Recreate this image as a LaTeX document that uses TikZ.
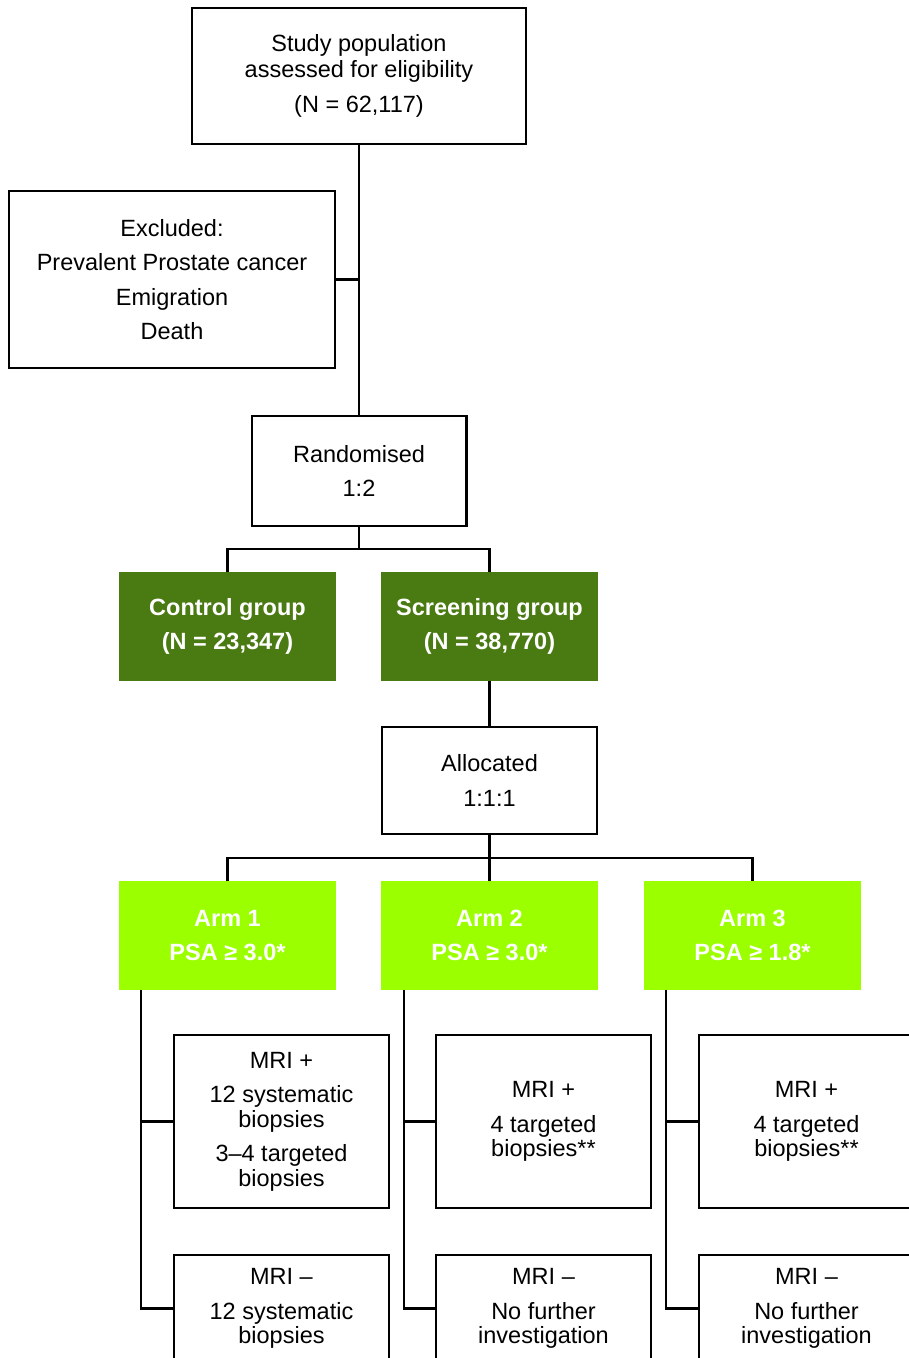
\documentclass[tikz,border=0pt]{standalone}
\usepackage{fontspec}
\setmainfont{Liberation Sans}
\usetikzlibrary{positioning}
\definecolor{groupgreen}{HTML}{4A7A12}
\definecolor{armlime}{HTML}{9CFF00}

\begin{document}
\begin{tikzpicture}[
  x=1pt, y=1pt,
  font=\fontsize{23.5}{34.5}\selectfont,
  line width=2.3pt,
  box/.style={draw, align=center, inner sep=0pt, minimum width=214.7pt, minimum height=106.7pt},
  group/.style={align=center, inner sep=0pt, outer sep=0pt, minimum width=217pt, minimum height=109pt,
    fill=groupgreen, text=white, font=\fontsize{23.5}{34.5}\selectfont\bfseries},
  arm/.style={group, fill=armlime},
  mripos/.style={box, minimum height=172.7pt}
]
\useasboundingbox (0,0) rectangle (909,-1358);
\clip (0,0) rectangle (909,-1358);

\node[box, minimum width=333.7pt, minimum height=135.7pt] (pop) at (359,-76)
  {Study population\\[-8.5pt]assessed for eligibility\\(N = 62,117)};
\node[box, minimum width=325.7pt, minimum height=176.7pt] (excl) at (172,-279.5)
  {Excluded:\\Prevalent Prostate cancer\\Emigration\\Death};
\node[box, minimum height=109.7pt, below=270pt of pop] (rand) {Randomised\\1:2};

\draw (pop.south) -- (rand.north);
\draw (excl.east) -- (excl.east -| pop.south);

\node[group] (ctrl) at (227.5,-626.5) {Control group\\(N = 23,347)};
\node[group, right=45pt of ctrl] (scr) {Screening group\\(N = 38,770)};

\draw (rand.south) -- ++(0,-22) coordinate (split1);
\draw (ctrl.north) |- (split1) -| (scr.north);

\node[box, below=45pt of scr] (alloc) {Allocated\\1:1:1};
\draw (scr.south) -- (alloc.north);

\node[arm, below=46pt of alloc] (arm2) {Arm 2\\PSA ≥ 3.0*};
\node[arm, left=45pt of arm2] (arm1) {Arm 1\\PSA ≥ 3.0*};
\node[arm, right=46pt of arm2] (arm3) {Arm 3\\PSA ≥ 1.8*};

\draw (alloc.south) -- (arm2.north);
\path (alloc.south) ++(0,-23) coordinate (split2);
\draw (arm1.north) |- (split2) -| (arm3.north);

% MRI outcomes per arm
\node[mripos, below=44pt of arm1, xshift=54pt] (mrip1)
  {MRI +\\12 systematic\\[-10pt]biopsies\\3–4 targeted\\[-10pt]biopsies};
\node[box, below=45pt of mrip1] (mrin1) {MRI –\\12 systematic\\[-10pt]biopsies};
\node[mripos, below=44pt of arm2, xshift=54pt] (mrip2) {MRI +\\4 targeted\\[-10pt]biopsies**};
\node[box, below=45pt of mrip2] (mrin2) {MRI –\\No further\\[-10pt]investigation};
\node[mripos, below=44pt of arm3, xshift=54pt] (mrip3) {MRI +\\4 targeted\\[-10pt]biopsies**};
\node[box, below=45pt of mrip3] (mrin3) {MRI –\\No further\\[-10pt]investigation};

\coordinate (trunk1) at ([xshift=22pt]arm1.south west);
\coordinate (trunk2) at ([xshift=23pt]arm2.south west);
\coordinate (trunk3) at ([xshift=22pt]arm3.south west);

\draw (trunk1) |- (mrin1.west);
\draw (trunk1 |- mrip1.west) -- (mrip1.west);
\draw (trunk2) |- (mrin2.west);
\draw (trunk2 |- mrip2.west) -- (mrip2.west);
\draw (trunk3) |- (mrin3.west);
\draw (trunk3 |- mrip3.west) -- (mrip3.west);

\end{tikzpicture}
\end{document}
